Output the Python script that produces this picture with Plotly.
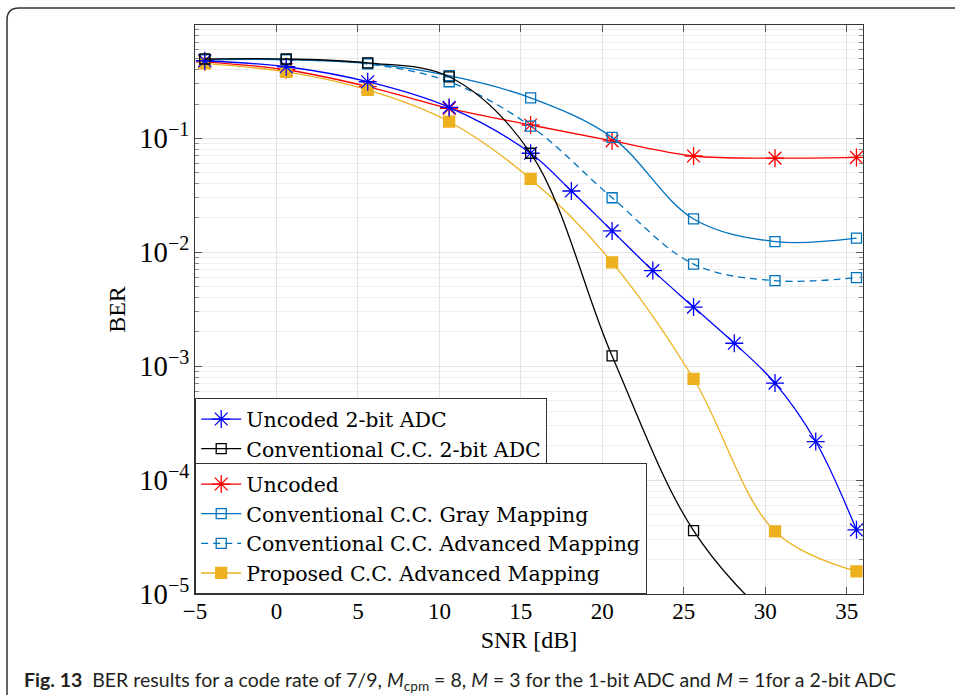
import plotly.graph_objects as go

# ---------------- data ----------------
snr = [-4.4, 0.6, 5.6, 10.6, 15.6, 20.6, 25.6, 30.6, 35.6]
snr_2bit = [-4.4, 0.6, 5.6, 10.6, 15.6, 18.1, 20.6, 23.1, 25.6, 28.1, 30.6, 33.1, 35.6]

ber_uncoded_2bit = [0.48, 0.425, 0.314, 0.187, 0.074, 0.0345, 0.0154, 0.0069,
                    0.0033, 0.00159, 7.1e-4, 2.18e-4, 3.66e-5]
ber_cc_2bit = [0.497, 0.497, 0.46, 0.347, 0.074, 1.23e-3, 3.6e-5, 5.5e-6, 1.5e-6]
ber_uncoded = [0.47, 0.40, 0.285, 0.183, 0.131, 0.095, 0.070, 0.067, 0.068]
ber_gray = [0.49, 0.49, 0.455, 0.355, 0.227, 0.102, 0.0196, 0.0124, 0.0133]
ber_adv = [0.49, 0.49, 0.45, 0.314, 0.128, 0.0301, 0.00788, 0.00563, 0.00598]
ber_prop = [0.455, 0.383, 0.266, 0.14, 0.044, 0.00816, 7.75e-4, 3.54e-5, 1.58e-5]

names = ["Uncoded 2-bit ADC", "Conventional C.C. 2-bit ADC", "Uncoded",
         "Conventional C.C. Gray Mapping", "Conventional C.C. Advanced Mapping",
         "Proposed C.C. Advanced Mapping"]

x_ticks = [-5, 0, 5, 10, 15, 20, 25, 30, 35]

# ---------------- style ----------------
SERIF = "Liberation Serif"
LEGFONT = "DejaVu Serif"
BLUE = "#0000FF"
RED = "#FF0000"
BLACK = "#000000"
MBLUE = "#0072BD"
YELLOW = "#EDB120"

fig = go.Figure()


def add(x, y, name, color, symbol, size, dash="solid", legend="legend", fill=None):
    fig.add_trace(go.Scatter(
        x=x, y=y, name=name, mode="lines+markers", legend=legend,
        line=dict(color=color, width=1.3, dash=dash, shape="spline", smoothing=1.0),
        marker=dict(symbol=symbol, size=size, color=fill if fill else color,
                    line=dict(color=color, width=1.3)),
    ))


add(snr, ber_uncoded, names[2], RED, "asterisk-open", 15, legend="legend2")
add(snr, ber_gray, names[3], MBLUE, "square-open", 10, legend="legend2")
add(snr, ber_adv, names[4], MBLUE, "square-open", 10, dash="7px,5px", legend="legend2")
add(snr, ber_prop, names[5], YELLOW, "square", 11, legend="legend2", fill=YELLOW)
add(snr_2bit, ber_uncoded_2bit, names[0], BLUE, "asterisk-open", 15, legend="legend")
add(snr, ber_cc_2bit, names[1], BLACK, "square-open", 10, legend="legend")

L, R, T, B = 195, 92, 25, 101
W, H = 955, 695
pw, ph = W - L - R, H - T - B


def px(xp):
    return (xp - L) / pw


def py(yp):
    return (H - B - yp) / ph


# outer rounded frame (decorative)
r = 12
x0, y0 = 7, 8
fr = (f"M {px(x0)},{py(H + 5)} L {px(x0)},{py(y0 + r)} "
      f"Q {px(x0)},{py(y0)} {px(x0 + r)},{py(y0)} L {px(W + 5)},{py(y0)}")
fig.add_shape(type="path", path=fr, xref="paper", yref="paper",
              line=dict(color="#333333", width=1.5), layer="above")

fig.add_annotation(
    xref="paper", yref="paper", x=px(22), y=py(681), xanchor="left", yanchor="middle",
    showarrow=False, align="left",
    text=("<b>Fig. 13</b>\u00a0\u00a0BER results for a code rate of 7/9, "
          "<i>M</i><sub>cpm</sub>\u00a0=\u00a08, <i>M</i>\u00a0=\u00a03 for the 1-bit ADC and "
          "<i>M</i>\u00a0=\u00a01for a 2-bit ADC"),
    font=dict(family="Lato", size=19.5, color="#231f20"),
)

axis_common = dict(
    showline=True, linecolor="#333333", linewidth=1.2, mirror="ticks",
    ticks="inside", ticklen=7, tickcolor="#555555", tickwidth=1,
    showgrid=True, gridcolor="#e3e3e3", gridwidth=1, zeroline=False,
    tickfont=dict(family=SERIF, size=23, color="black"),
)

fig.update_xaxes(
    range=[-5, 36], tickmode="array", tickvals=x_ticks,
    ticktext=[("\u2212" + str(-v)) if v < 0 else str(v) for v in x_ticks],
    ticklabelstandoff=-4,
    title=dict(text="SNR [dB]", font=dict(family=SERIF, size=24, color="black"), standoff=8),
    **axis_common,
)
fig.update_yaxes(
    type="log", range=[-5, -0.005], dtick=1, exponentformat="power", showexponent="all",
    title=dict(text="BER", font=dict(family=SERIF, size=24, color="black"), standoff=6),
    minor=dict(dtick="D1", ticks="inside", ticklen=4, tickcolor="#888888",
               showgrid=True, gridcolor="#efefef", gridwidth=1),
    **axis_common,
)

legend_common = dict(
    bgcolor="white", bordercolor="#333333", borderwidth=1.2,
    font=dict(family=LEGFONT, size=20.5, color="black"),
    itemwidth=40, xanchor="left", x=0, tracegroupgap=0,
)
fig.update_layout(
    width=W, height=H,
    margin=dict(l=L, r=R, t=T, b=B),
    paper_bgcolor="white", plot_bgcolor="white",
    legend=dict(yanchor="top", y=py(398), **legend_common),
    legend2=dict(yanchor="bottom", y=0, **legend_common),
)

fig.write_html("out.html")
